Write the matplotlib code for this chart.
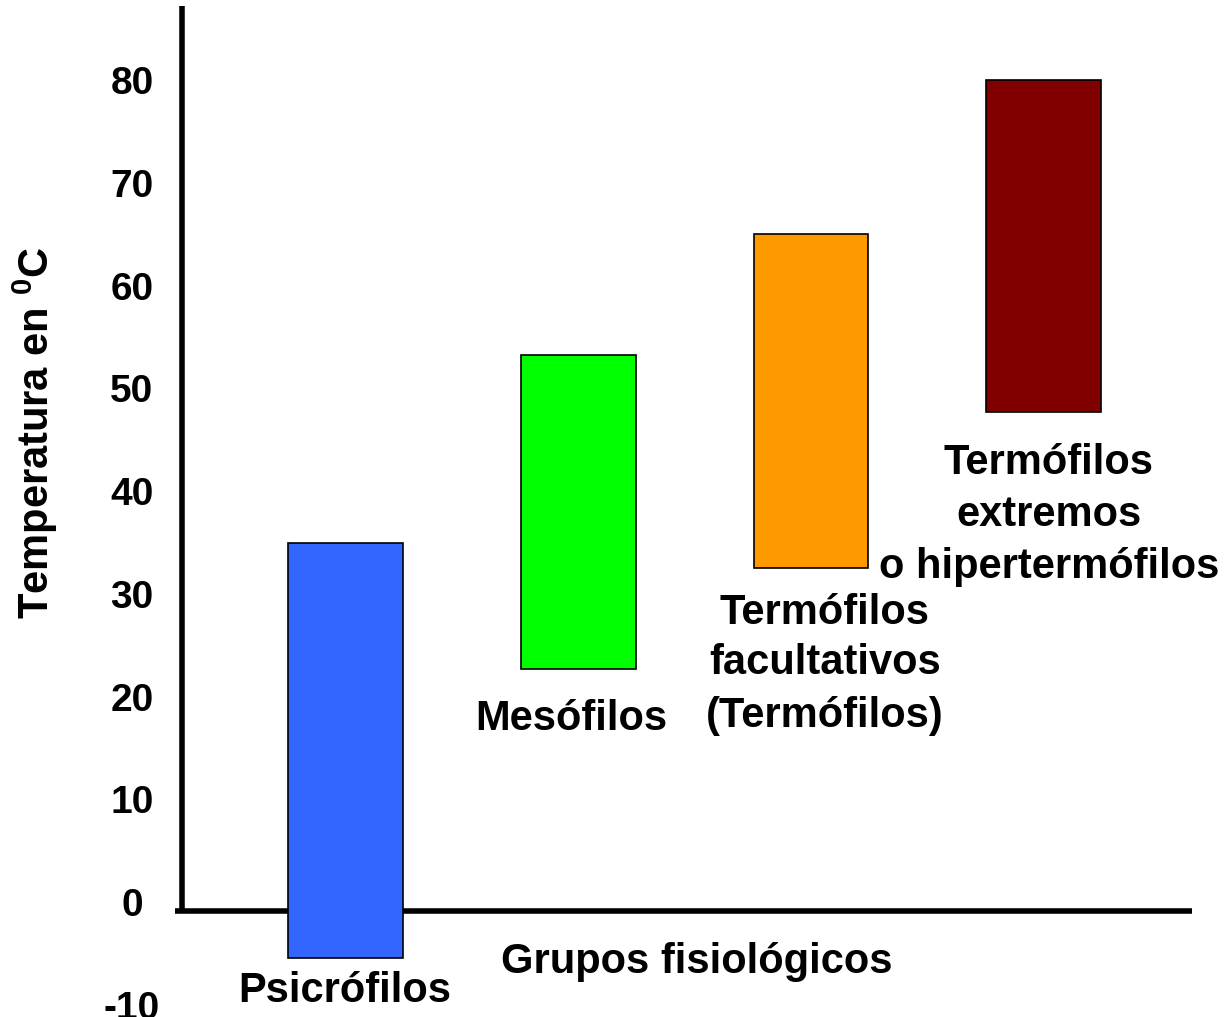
import matplotlib
matplotlib.use("Agg")
import matplotlib.pyplot as plt

# ---- data ----
groups = ["Psicrófilos", "Mesófilos", "Termófilos\nfacultativos\n(Termófilos)",
          "Termófilos\nextremos\no hipertermófilos"]
t_min = [-5.5, 22.7, 32.5, 47.7]
t_max = [35.0, 53.3, 65.0, 80.0]
colors = ["#3366FF", "#00FF00", "#FF9900", "#800000"]
yticks = [-10, 0, 10, 20, 30, 40, 50, 60, 70, 80]
ylabel = r"Temperatura en $^{0}$C"
xlabel = "Grupos fisiológicos"

plt.rcParams['font.family'] = ['Liberation Sans', 'DejaVu Sans']
plt.rcParams['font.weight'] = 'bold'
plt.rcParams['mathtext.default'] = 'regular'

W, H = 1231, 1017
fig = plt.figure(figsize=(W / 100, H / 100), dpi=100)
fig.patch.set_facecolor("white")

# layout constants (pixels)
x_left_px = 175
c0_px, step_px = 345.8, 232.6
y0_px, unit_px = 902.0, 10.27

ax = fig.add_axes([x_left_px / W, 0, 1 - x_left_px / W, 1])
ax.set_xlim((x_left_px - c0_px) / step_px, (W - c0_px) / step_px)
ax.set_ylim((y0_px - H) / unit_px, y0_px / unit_px)
for s in ax.spines.values():
    s.set_visible(False)
ax.set_facecolor("none")

# axis lines
axis_y = (y0_px - 910.5) / unit_px
axis_x = (181.5 - c0_px) / step_px
ax.axhline(axis_y, xmin=0, xmax=(1192 - x_left_px) / (W - x_left_px),
           color="black", lw=4, zorder=1, solid_capstyle="butt")
ax.axvline(axis_x, ymin=(H - 913) / H, ymax=(H - 6) / H,
           color="black", lw=4, zorder=1, solid_capstyle="butt")

# floating bars
xs = list(range(len(groups)))
heights = [b - a for a, b in zip(t_min, t_max)]
ax.bar(xs, heights, bottom=t_min, width=0.494, color=colors,
       edgecolor="black", linewidth=1.2, zorder=3)

# y ticks
ax.set_xticks([])
ax.set_yticks(yticks)
ax.set_yticklabels([str(v) for v in yticks], fontsize=28, fontweight="bold")
ax.tick_params(axis="y", length=0, pad=31)
for lab in ax.get_yticklabels():
    lab.set_horizontalalignment("center")

def ftext(x, y, s, **kw):
    fig.text(x / W, 1 - y / H, s, fontsize=30, fontweight="bold", **kw)

# group labels (line baselines in pixels)
label_pos = [
    (344.5, [1001.5]),
    (571, [730]),
    (825, [623.5, 674.3, 727]),
    (1049, [474.5, 525.5, 578]),
]
for name, (cx, bases) in zip(groups, label_pos):
    for line, b in zip(name.split("\n"), bases):
        ftext(cx, b, line, ha="center", va="baseline")

ftext(697, 973, xlabel, ha="center", va="baseline")
ftext(35, 432.5, ylabel, ha="center", va="center", rotation=90)

fig.savefig("out.png", dpi=100, facecolor="white")
